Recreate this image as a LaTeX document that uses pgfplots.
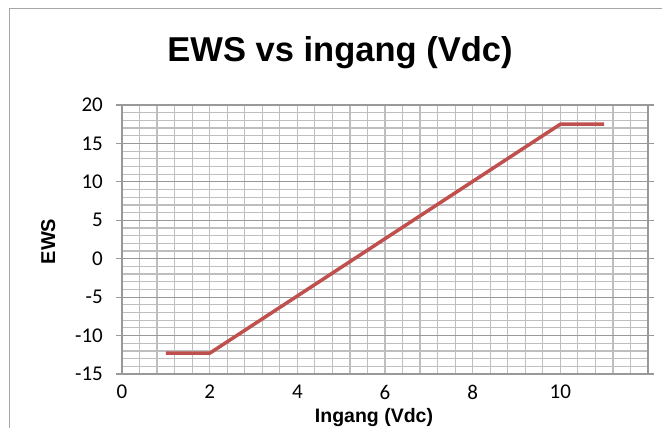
\documentclass[border=0pt]{standalone}
\usepackage{pgfplots}
\pgfplotsset{compat=1.18}
\usepackage{fontspec}
\setmainfont{Liberation Sans}
\newfontfamily\carlito{Carlito}
\definecolor{lineRed}{HTML}{C0504D}
\definecolor{gridMinor}{HTML}{BEBEBE}
\definecolor{gridMajor}{HTML}{999999}
\definecolor{frameGray}{HTML}{A6A6A6}

\begin{document}
\begin{tikzpicture}[x=1pt,y=1pt]
  \useasboundingbox (0,0) rectangle (662,428);
  % chart frame (right and bottom edges are cut off in the reference)
  \draw[frameGray, line width=1pt] (9,0) -- (9,419) -- (662,419);

  \begin{axis}[
      at={(122pt,54pt)}, anchor=south west,
      scale only axis,
      width=526pt, height=269pt,
      xmin=0, xmax=12,
      ymin=-15, ymax=20,
      xtick={0,2,...,10},
      ytick={-15,-10,...,20},
      minor xtick={0,0.4,...,12},
      minor ytick={-15,-14,...,20},
      xmajorgrids=false, xminorgrids=true,
      ymajorgrids=true, yminorgrids=true,
      minor grid style={gridMinor, line width=1.2pt},
      major grid style={gridMajor, line width=1.2pt},
      axis line style={gridMajor, line width=1.2pt},
      xtick style={draw=none},
      minor tick style={draw=none},
      ytick style={gridMajor, line width=1.2pt},
      tick align=outside,
      major tick length=6pt,
      /pgf/number format/assume math mode=true,
      ticklabel style={font=\carlito\fontsize{21}{21}\selectfont, inner sep=0pt},
      yticklabel style={anchor=east, xshift=-13pt},
      xticklabel style={anchor=north, yshift=-5pt},
    ]
    \addplot[lineRed, line width=3.5pt, line join=round] coordinates {
      (1,-12.3) (2,-12.3) (10,17.5) (11,17.5)
    };
  \end{axis}

  \node[anchor=base, font=\fontsize{34.5}{34.5}\selectfont\bfseries] at (340,366) {EWS vs ingang (Vdc)};
  \node[anchor=base, rotate=90, font=\fontsize{20}{20}\selectfont\bfseries] at (55,186.5) {EWS};
  \node[anchor=base, font=\fontsize{19.5}{19.5}\selectfont\bfseries] at (374,5) {Ingang (Vdc)};
\end{tikzpicture}
\end{document}
